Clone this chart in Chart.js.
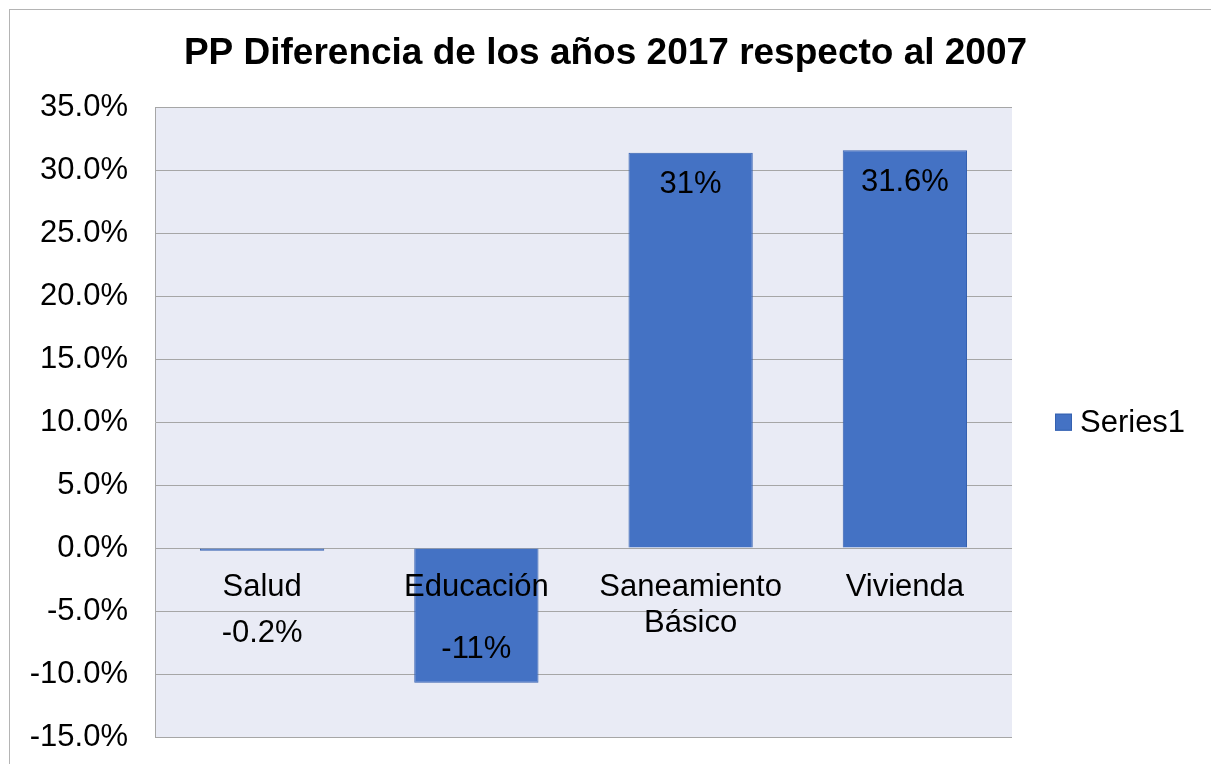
<!DOCTYPE html>
<html>
<head>
<meta charset="utf-8">
<script src="https://cdn.jsdelivr.net/npm/chart.js@4.4.1/dist/chart.umd.min.js"></script>
<style>
  html, body { margin: 0; padding: 0; background: #ffffff; }
  #wrap { width: 1211px; height: 764px; position: relative; }
</style>
</head>
<body>
<div id="wrap"><canvas id="c" width="1211" height="764"></canvas></div>
<script>
const titleText = 'PP Diferencia de los años 2017 respecto al 2007';
const categories = [['Salud'], ['Educación'], ['Saneamiento', 'Básico'], ['Vivienda']];
const seriesName = 'Series1';
const values = [-0.2, -10.7, 31.4, 31.6];
const valueLabels = ['-0.2%', '-11%', '31%', '31.6%'];
const yMin = -15;
const yMax = 35;
const yStep = 5;

const FONT = '"Liberation Sans", Arial, sans-serif';
const BAR = '#4472c4';
const BAR_EDGE = '#3561b0';
const GRID = '#a6a6a6';
const PLOT_BG = '#e9ebf5';

const decorPlugin = {
  id: 'decor',
  beforeDraw(chart) {
    const { ctx, chartArea: a } = chart;
    ctx.save();
    ctx.fillStyle = '#ffffff';
    ctx.fillRect(0, 0, chart.width, chart.height);
    ctx.strokeStyle = '#b4b4b4';
    ctx.lineWidth = 1;
    ctx.strokeRect(9.5, 9.5, chart.width + 50, chart.height + 50);
    ctx.fillStyle = PLOT_BG;
    ctx.fillRect(a.left, a.top, a.right - a.left, a.bottom - a.top);
    ctx.restore();
  },
  afterDatasetsDraw(chart) {
    const { ctx } = chart;
    const xs = chart.scales.x;
    const ys = chart.scales.y;
    const y0 = ys.getPixelForValue(0);
    const meta = chart.getDatasetMeta(0);
    ctx.save();
    ctx.fillStyle = '#000000';
    ctx.font = '31px ' + FONT;
    ctx.textAlign = 'center';
    ctx.textBaseline = 'middle';
    categories.forEach((lines, i) => {
      const x = xs.getPixelForValue(i);
      lines.forEach((ln, k) => {
        ctx.fillText(ln, x, y0 + 39 + k * 36);
      });
    });
    meta.data.forEach((bar, i) => {
      const h = Math.abs(bar.base - bar.y);
      let y;
      if (h > 60) {
        y = values[i] >= 0 ? bar.y + 32 : bar.y - 33;
      } else {
        y = y0 + 85;
      }
      ctx.fillText(valueLabels[i], bar.x, y);
    });
    ctx.restore();
  },
  afterDraw(chart) {
    const { ctx, chartArea: a } = chart;
    const bx = a.right + 43;
    const by = (a.top + a.bottom) / 2;
    ctx.save();
    ctx.fillStyle = BAR;
    ctx.strokeStyle = BAR_EDGE;
    ctx.lineWidth = 1;
    ctx.fillRect(bx, by - 8.5, 17, 17);
    ctx.strokeRect(bx + 0.5, by - 8, 16, 16);
    ctx.fillStyle = '#000000';
    ctx.font = '31px ' + FONT;
    ctx.textAlign = 'left';
    ctx.textBaseline = 'middle';
    ctx.fillText(seriesName, bx + 25, by + 1);
    ctx.restore();
  }
};

new Chart(document.getElementById('c'), {
  type: 'bar',
  data: {
    labels: categories,
    datasets: [{
      label: seriesName,
      data: values,
      backgroundColor: BAR,
      borderColor: BAR_EDGE,
      borderWidth: 1,
      barPercentage: 0.58,
      categoryPercentage: 1.0
    }]
  },
  options: {
    responsive: false,
    animation: false,
    devicePixelRatio: 1,
    layout: { padding: { left: 0, right: 0, top: 0, bottom: 0 } },
    plugins: {
      legend: { display: false },
      tooltip: { enabled: false },
      title: {
        display: true,
        text: titleText,
        color: '#000000',
        font: { family: FONT, size: 37, weight: 'bold' },
        padding: { top: 32, bottom: 31 }
      }
    },
    scales: {
      x: {
        display: false,
        grid: { display: false }
      },
      y: {
        position: 'left',
        min: yMin,
        max: yMax,
        afterFit: (s) => { s.width = 155; s.paddingBottom = 27; },
        ticks: {
          stepSize: yStep,
          color: '#000000',
          padding: 27,
          font: { family: FONT, size: 31 },
          callback: (v) => v.toFixed(1) + '%'
        },
        grid: { color: GRID, lineWidth: 1, drawTicks: false },
        border: { display: true, color: GRID, width: 1 }
      },
      yRight: {
        position: 'right',
        display: true,
        min: yMin,
        max: yMax,
        afterFit: (s) => { s.width = 199; s.paddingBottom = 0; s.paddingTop = 0; },
        ticks: { display: false },
        grid: { display: false, drawTicks: false },
        border: { display: false }
      }
    }
  },
  plugins: [decorPlugin]
});
</script>
</body>
</html>
